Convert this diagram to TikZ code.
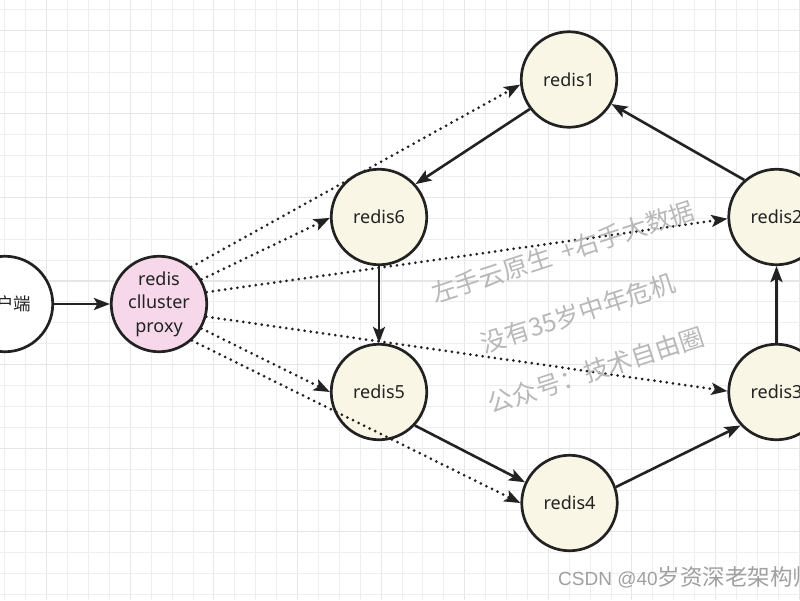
\documentclass[tikz,border=0pt]{standalone}
\usepackage{fontspec}
\setmainfont{Noto Sans}
\newfontfamily\cjk{Noto Sans CJK SC}
\newfontfamily\arialf{Liberation Sans}
\usetikzlibrary{arrows.meta}
\definecolor{cream}{HTML}{F9F6E6}
\definecolor{pinkfill}{HTML}{F7D8EA}
\definecolor{strokec}{HTML}{222222}
\definecolor{gridlt}{HTML}{EEEEEE}
\definecolor{griddk}{HTML}{E6E6E6}
\definecolor{wmc}{HTML}{B8B8B8}
\definecolor{csdnc}{HTML}{A0A0A0}
\begin{document}
\begin{tikzpicture}[x=1pt,y=-1pt,
  rnode/.style={circle,draw=strokec,line width=2.7pt,fill=cream,minimum size=95.5pt,inner sep=0pt,
    font=\fontsize{18}{23.5}\selectfont,align=center,text=strokec},
  pnode/.style={rnode,fill=pinkfill},
  cnode/.style={rnode,fill=white,font=\cjk\fontsize{17.5}{23}\selectfont},
  solidarrow/.style={draw=strokec,line width=2.6pt,-{Stealth[length=16pt,width=12pt,inset=3.5pt]}},
  dotarrow/.style={draw=strokec,line width=3pt,line cap=round,dash pattern=on 0pt off 6.2pt,
    -{Stealth[length=16pt,width=12pt,inset=3.5pt,line cap=butt,sep=0pt]}},
  wmark/.style={font=\cjk\fontsize{25}{25}\selectfont,text=wmc,rotate=18,inner sep=0pt}]
\useasboundingbox (0,0) rectangle (800,600);
\clip (0,0) rectangle (800,600);
\fill[white] (0,0) rectangle (800,600);
% grid
\foreach \k in {0,...,38}{
  \pgfmathsetmacro\xx{4.9+20.9*\k}
  \pgfmathtruncatemacro\m{mod(\k+2,4)}
  \ifnum\m=0
    \draw[griddk,line width=1.1pt] (\xx,0) -- (\xx,600);
  \else
    \draw[gridlt,line width=0.9pt] (\xx,0) -- (\xx,600);
  \fi
}
\foreach \k in {0,...,28}{
  \pgfmathsetmacro\yy{9.3+20.9*\k}
  \pgfmathtruncatemacro\m{mod(\k+3,4)}
  \ifnum\m=0
    \draw[griddk,line width=1.1pt] (0,\yy) -- (800,\yy);
  \else
    \draw[gridlt,line width=0.9pt] (0,\yy) -- (800,\yy);
  \fi
}
% nodes
\node[cnode] (client) at (5,304) {客户端};
\node[pnode] (proxy) at (159,304) {redis\\clluster\\proxy};
\node[rnode] (r1) at (569,79.5) {redis1};
\node[rnode] (r6) at (379,217) {redis6};
\node[rnode] (r5) at (379,392) {redis5};
\node[rnode] (r4) at (569.5,503) {redis4};
\node[rnode] (r2) at (776.5,217) {redis2};
\node[rnode] (r3) at (776.5,392) {redis3};
% solid edges
\draw[solidarrow] (client) -- (proxy);
\draw[solidarrow] (r1.217) -- (r6.42);
\draw[solidarrow] (r6) -- (r5);
\draw[solidarrow] (r5.-43) -- (r4.155);
\draw[solidarrow] (r4.19) -- (r3.223);
\draw[solidarrow] (r3) -- (r2);
\draw[solidarrow] (r2.131) -- (r1.-30);
% dotted edges
\draw[dotarrow] (proxy.49) -- (r1.186);
\draw[dotarrow] (proxy.30) -- (r6.181);
\draw[dotarrow] (proxy.14) -- (r2.182);
\draw[dotarrow] (proxy.-15) -- (r3.179);
\draw[dotarrow] (proxy.-30) -- (r5.180);
\draw[dotarrow] (proxy.-48) -- (r4.180);
% watermarks
\node[wmark] (wm1) at (563,252) {左手云原生 ~+右手大数据};
\node[wmark] (wm2) at (578,313) {没有35岁中年危机};
\node[wmark] (wm3) at (596,370) {公众号：技术自由圈};
\node[anchor=base west,inner sep=0pt,text=csdnc,font=\arialf\fontsize{19}{19}\selectfont] (csdn) at (558,585) {CSDN @40{\cjk\fontsize{22.5}{22.5}\selectfont 岁资深老架构师}};
\end{tikzpicture}
\end{document}
